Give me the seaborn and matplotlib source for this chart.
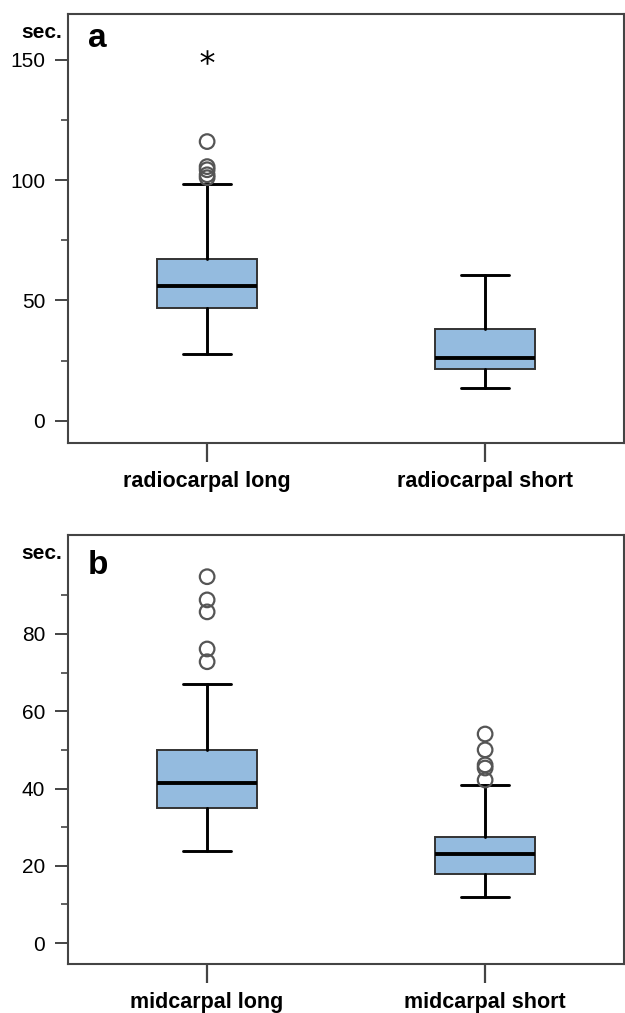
import matplotlib
matplotlib.use('Agg')
import matplotlib.pyplot as plt
import seaborn as sns
import pandas as pd

sns.set_style('white')
plt.rcParams['font.family'] = ['Liberation Sans', 'DejaVu Sans']
plt.rcParams['text.color'] = 'black'
plt.rcParams['xtick.color'] = 'black'
plt.rcParams['ytick.color'] = 'black'

# panel a: radiocarpal
labels_a = ['radiocarpal long', 'radiocarpal short']
whislo_a = [27.8, 13.7]
q1_a = [47.0, 21.6]
med_a = [56.1, 26.2]
q3_a = [67.3, 38.2]
whishi_a = [98.3, 60.7]
outliers_a = [[116.0, 105.6, 104.3, 102.2, 101.0], []]
extremes_a = [[151.0], []]

# panel b: midcarpal
labels_b = ['midcarpal long', 'midcarpal short']
whislo_b = [23.8, 11.9]
q1_b = [35.0, 17.9]
med_b = [41.4, 23.0]
q3_b = [50.0, 27.4]
whishi_b = [67.0, 40.9]
outliers_b = [[94.8, 88.8, 85.7, 76.1, 72.8], [54.1, 50.0, 46.1, 45.3, 42.2]]
extremes_b = [[], []]

BOX_COLOR = '#94bbdf'


def make_stats(labels, lo, q1, med, q3, hi):
    stats = []
    for i in range(len(labels)):
        stats.append({'label': labels[i], 'whislo': lo[i], 'q1': q1[i], 'med': med[i],
                      'q3': q3[i], 'whishi': hi[i], 'fliers': []})
    return stats


def draw_panel(ax, labels, lo, q1, med, q3, hi, outliers, extremes, ylim, major, minor, letter, letter_y):
    stats = make_stats(labels, lo, q1, med, q3, hi)
    ax.bxp(stats, positions=range(len(labels)), widths=0.36, patch_artist=True, showfliers=False,
           boxprops=dict(facecolor=BOX_COLOR, edgecolor='#333333', linewidth=1.4),
           medianprops=dict(color='black', linewidth=2.8),
           whiskerprops=dict(color='black', linewidth=2.1),
           capprops=dict(color='black', linewidth=2.1), capwidths=0.17)

    # outliers (circles) and extremes (stars)
    rows = []
    for i in range(len(labels)):
        for v in outliers[i]:
            rows.append({'x': i, 'y': v, 'kind': 'out'})
        for v in extremes[i]:
            rows.append({'x': i, 'y': v, 'kind': 'ext'})
    df = pd.DataFrame(rows)
    if len(df):
        out = df[df['kind'] == 'out']
        sns.scatterplot(data=out, x='x', y='y', ax=ax, marker='o', s=110,
                        facecolor='none', edgecolor='#555555', linewidth=1.6, zorder=5)
        ext = df[df['kind'] == 'ext']
        if len(ext):
            sns.scatterplot(data=ext, x='x', y='y', ax=ax, marker='$*$', s=110,
                            color='black', linewidth=0, zorder=5)

    ax.set_xlim(-0.5, len(labels) - 0.5)
    ax.set_ylim(*ylim)
    ax.set_xticks(range(len(labels)))
    ax.set_xticklabels(labels, fontsize=15.5, fontweight='bold')
    ax.set_yticks(major)
    ax.set_yticks(minor, minor=True)
    ax.tick_params(axis='y', which='major', length=9.5, width=1.4, color='#444444',
                   labelsize=15, pad=7, left=True)
    ax.tick_params(axis='y', which='minor', length=5, width=1.2, color='#444444', left=True)
    ax.tick_params(axis='x', which='major', length=14, width=1.6, color='#444444', pad=6, bottom=True)
    ax.set_xlabel('')
    ax.set_ylabel('')
    for sp in ax.spines.values():
        sp.set_color('#444444')
        sp.set_linewidth(1.5)
    ax.text(-0.011, 0.945, 'sec.', transform=ax.transAxes, ha='right', va='baseline',
            fontsize=15, fontweight='bold')
    ax.text(0.036, letter_y, letter, transform=ax.transAxes, ha='left', va='baseline',
            fontsize=24, fontweight='bold')


fig = plt.figure(figsize=(6.25, 10.13), dpi=100)
ax_a = fig.add_axes([0.109, 0.5627, 0.8896, 0.4235])
ax_b = fig.add_axes([0.109, 0.0484, 0.8896, 0.4235])

draw_panel(ax_a, labels_a, whislo_a, q1_a, med_a, q3_a, whishi_a, outliers_a, extremes_a,
           (-9.2, 169.0), [0, 50, 100, 150], [25, 75, 125], 'a', 0.923)
draw_panel(ax_b, labels_b, whislo_b, q1_b, med_b, q3_b, whishi_b, outliers_b, extremes_b,
           (-5.4, 105.6), [0, 20, 40, 60, 80], [10, 30, 50, 70, 90], 'b', 0.909)

fig.savefig('out.png', dpi=100)
